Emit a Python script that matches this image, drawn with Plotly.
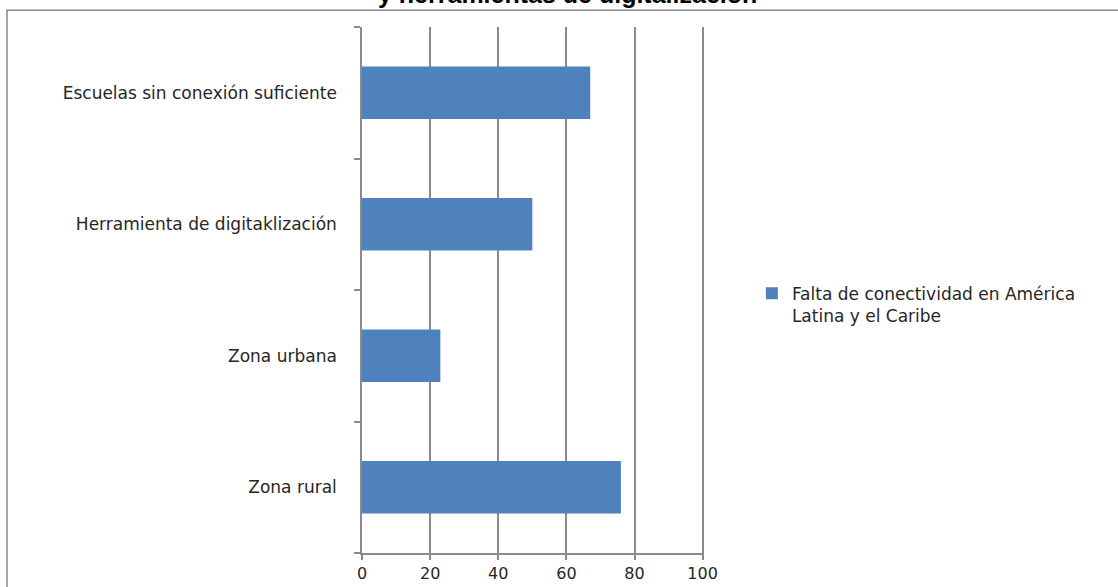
import plotly.graph_objects as go

# Survey categories (bottom to top) and their percentages
categories = ["Zona rural", "Zona urbana", "Herramienta de digitaklización",
              "Escuelas sin conexión suficiente"]
values = [76, 23, 50, 67]
series_name = "Falta de conectividad en América<br>Latina y el Caribe"
title_text = "y herramientas de digitalización"
x_ticks = [0, 20, 40, 60, 80, 100]

bar_color = "#4f81bd"
line_gray = "#8a8a8a"
text_font = "DejaVu Sans"

fig = go.Figure()
fig.add_trace(go.Bar(
    x=values, y=categories, orientation="h",
    marker=dict(color=bar_color, line=dict(width=0)),
    width=0.4, name=series_name, showlegend=True,
))

fig.update_layout(
    width=1118, height=587,
    margin=dict(l=362, r=414, t=27, b=34, autoexpand=False),
    paper_bgcolor="white", plot_bgcolor="white",
    font=dict(family=text_font, size=16, color="#262626"),
    showlegend=True,
    legend=dict(
        x=1.14, y=0.527, xanchor="left", yanchor="top",
        valign="top", font=dict(family=text_font, size=17, color="#262626"),
        bgcolor="rgba(0,0,0,0)", itemwidth=30, tracegroupgap=0,
    ),
    xaxis=dict(
        range=[0, 100.4], tickvals=x_ticks, showgrid=True,
        gridcolor=line_gray, gridwidth=1.5, zeroline=False,
        showline=True, linecolor=line_gray, linewidth=1.5,
        ticks="outside", ticklen=5, tickwidth=1.5, tickcolor=line_gray,
        tickfont=dict(family=text_font, size=16, color="#262626"),
        ticklabelstandoff=0, automargin=False,
    ),
    yaxis=dict(
        type="category", categoryorder="array", categoryarray=categories,
        range=[-0.5, 3.5], showgrid=False, zeroline=False,
        showline=True, linecolor=line_gray, linewidth=1.5,
        ticks="outside", ticklen=6, tickwidth=1.5, tickcolor=line_gray,
        tickson="boundaries", ticklabelstandoff=20, automargin=False,
        tickfont=dict(family=text_font, size=17, color="#262626"),
    ),
    shapes=[dict(
        type="rect", xref="paper", yref="paper",
        x0=-1.038, x1=3.0, y0=-0.5, y1=1.032,
        line=dict(color=line_gray, width=1.5), fillcolor="rgba(0,0,0,0)",
        layer="below",
    )],
    annotations=[dict(
        text=title_text, xref="paper", yref="paper",
        x=0.60, y=1.032, xanchor="center", yanchor="bottom",
        showarrow=False,
        font=dict(family="Liberation Sans", size=25, color="black", weight="bold"),
    )],
)

fig.write_html("out.html")
